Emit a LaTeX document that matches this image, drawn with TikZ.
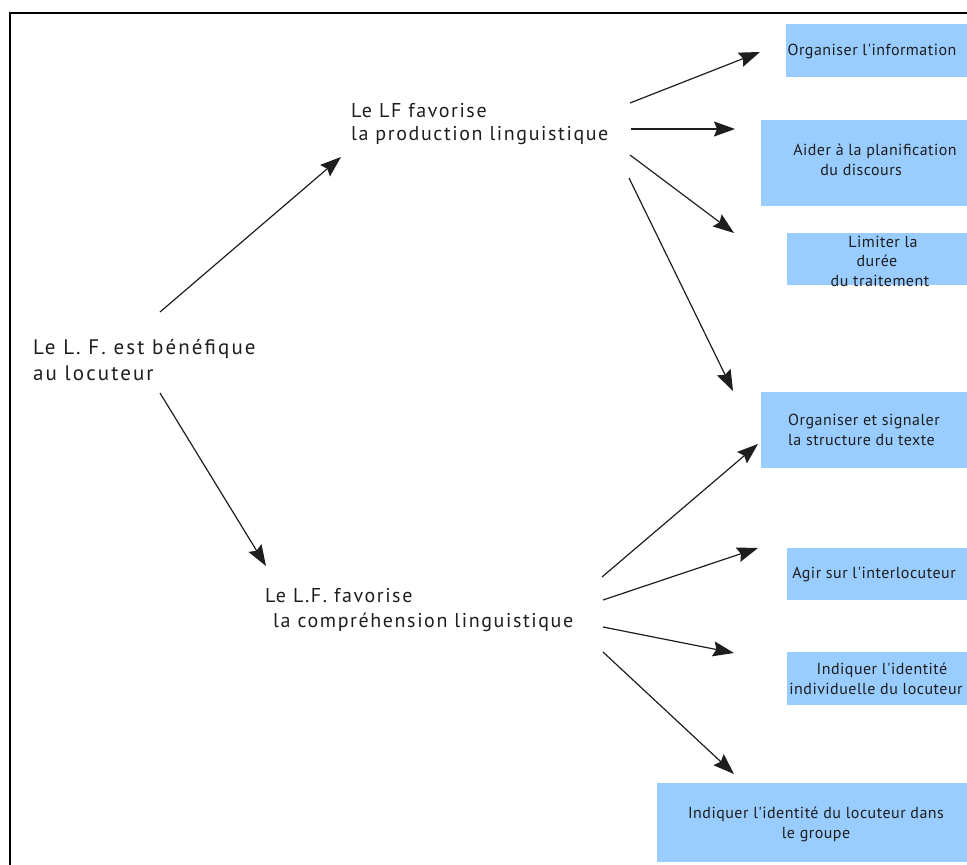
\documentclass[tikz,border=0pt]{standalone}
\usepackage{fontspec}
\setmainfont{PT Sans}
\newfontfamily\mainsp[LetterSpace=8]{PT Sans}
\newfontfamily\rootsp[LetterSpace=10]{PT Sans}
\newfontfamily\boxsp[LetterSpace=3]{PT Sans}
\usetikzlibrary{arrows.meta}
\definecolor{boxblue}{RGB}{153,204,255}
\definecolor{inkgray}{RGB}{30,30,30}
\tikzset{
  mainlbl/.style={font=\mainsp\fontsize{20}{24.5}\selectfont, text=inkgray, align=left, inner sep=0pt, anchor=base west},
  bluebox/.style={fill=boxblue, draw=none, inner sep=0pt, anchor=north west},
  boxlbl/.style={font=\boxsp\fontsize{16}{20}\selectfont, text=inkgray, align=center, inner sep=0pt},
  arr/.style={draw=inkgray, line width=1.2pt, -{Stealth[length=21pt,width=15pt,inset=3pt]}}
}
\begin{document}
\begin{tikzpicture}[x=1pt,y=-1pt]
\useasboundingbox (0,0) rectangle (967,865);
% frame
\draw[line width=2.2pt, black] (990,13) -- (10,13) -- (10,890);
% blue boxes
\node[bluebox, minimum width=200pt, minimum height=53pt] (b1) at (786,24) {};
\node[bluebox, minimum width=220pt, minimum height=86pt] (b2) at (761,120) {};
\node[bluebox, minimum width=200pt, minimum height=52pt] (b3) at (787,233) {};
\node[bluebox, minimum width=220pt, minimum height=76pt] (b4) at (761,392) {};
\node[bluebox, minimum width=200pt, minimum height=52pt] (b5) at (787,548) {};
\node[bluebox, minimum width=200pt, minimum height=53pt] (b6) at (787,652) {};
\node[bluebox, minimum width=330pt, minimum height=79pt] (b7) at (657,783) {};
% box texts
\node[boxlbl] (t1) at (872,51) {Organiser l'information};
\node[boxlbl, align=left] (t2) at (875,160) {Aider à la planification\\\hspace*{27pt}du discours};
\node[boxlbl, font=\boxsp\fontsize{16}{19.5}\selectfont] (t3) at (877,261) {\hspace*{12pt}Limiter la\\durée\\\hspace*{6pt}du traitement};
\node[boxlbl, align=left] (t4) at (864,430) {Organiser et signaler\\la structure du texte};
\node[boxlbl] (t5) at (874,575) {Agir sur l'interlocuteur};
\node[boxlbl] (t6) at (876,679) {\hspace*{12pt}Indiquer l'identité\\individuelle du locuteur};
\node[boxlbl] (t7) at (816,824) {Indiquer l'identité du locuteur dans\\le groupe};
% main labels (anchor = baseline of last line)
\node[mainlbl, font=\rootsp\fontsize{21}{26}\selectfont] (root) at (33,380) {Le L. F. est bénéfique\\au locuteur};
\node[mainlbl, font=\mainsp\fontsize{20}{23}\selectfont] (prod) at (351,140) {Le LF favorise\\la production linguistique};
\node[mainlbl] (comp) at (265,627) {Le L.F. favorise\\\hspace*{8pt}la compréhension linguistique};
% arrow end points
\coordinate (r1) at (160,312);
\coordinate (r1e) at (341,157);
\coordinate (r2) at (160,393);
\coordinate (r2e) at (266,566);
\coordinate (p1) at (630,103);
\coordinate (p1e) at (760,52);
\coordinate (p2) at (631,129);
\coordinate (p2e) at (735,129);
\coordinate (p3) at (630,155);
\coordinate (p3e) at (734,233);
\coordinate (p4) at (629,178);
\coordinate (p4e) at (733,391);
\coordinate (c1) at (602,577);
\coordinate (c1e) at (758,444);
\coordinate (c2) at (603,600);
\coordinate (c2e) at (758,548);
\coordinate (c3) at (603,627);
\coordinate (c3e) at (734,653);
\coordinate (c4) at (603,652);
\coordinate (c4e) at (734,774);
% arrows
\draw[arr] (r1) -- (r1e);
\draw[arr] (r2) -- (r2e);
\draw[arr] (p1) -- (p1e);
\draw[arr] (p2) -- (p2e);
\draw[arr] (p3) -- (p3e);
\draw[arr] (p4) -- (p4e);
\draw[arr] (c1) -- (c1e);
\draw[arr] (c2) -- (c2e);
\draw[arr] (c3) -- (c3e);
\draw[arr] (c4) -- (c4e);
\end{tikzpicture}
\end{document}
